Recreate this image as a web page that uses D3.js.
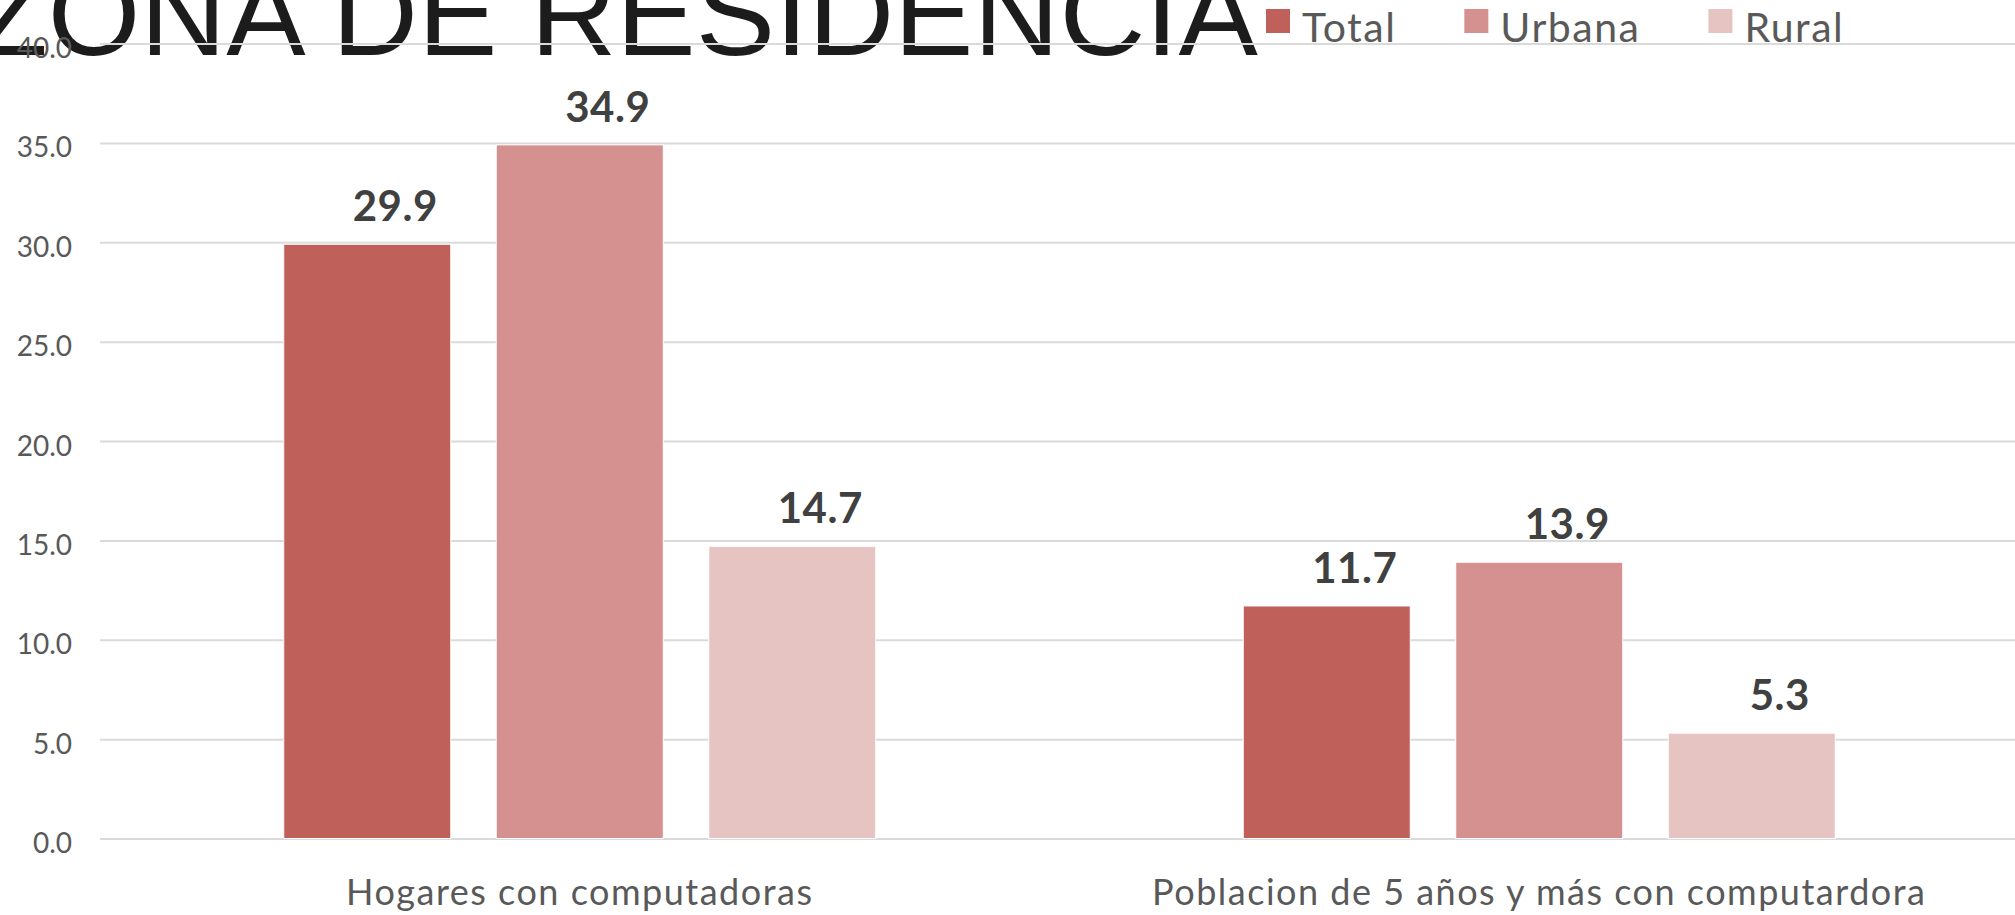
<!DOCTYPE html>
<html>
<head>
<meta charset="utf-8">
<script src="https://cdn.jsdelivr.net/npm/d3@7"></script>
<style>
  html, body { margin: 0; padding: 0; background: #fff; overflow: hidden; }
  svg { display: block; }
</style>
</head>
<body>
<div id="chart"></div>
<script>
// chart data
const categories = ["Hogares con computadoras", "Poblacion de 5 años y más con computardora"];
const series = ["Total", "Urbana", "Rural"];
const totalValues = [29.9, 11.7];
const urbanaValues = [34.9, 13.9];
const ruralValues = [14.7, 5.3];
const yTicks = [0, 5, 10, 15, 20, 25, 30, 35, 40];
const titleText = "ZONA DE RESIDENCIA";

const width = 2015, height = 915;
const margin = {top: 43.5, right: -4, bottom: 76.5, left: 100};

const colors = d3.scaleOrdinal()
  .domain(series)
  .range(["#C0605A", "#D59190", "#E6C4C2"]);

const valuesBySeries = {Total: totalValues, Urbana: urbanaValues, Rural: ruralValues};

const rows = categories.map((c, i) => ({
  category: c,
  bars: series.map(s => ({series: s, value: valuesBySeries[s][i]}))
}));

const svg = d3.select("#chart").append("svg")
  .attr("width", width)
  .attr("height", height);

// title sits underneath the plot (gridlines run over it)
svg.append("text")
  .attr("x", -25)
  .attr("y", 55)
  .style("font-family", "'Liberation Sans', Arial, sans-serif")
  .style("font-size", "119px")
  .style("fill", "#1c1c1c")
  .text(titleText);

const x0 = d3.scaleBand()
  .domain(categories)
  .range([margin.left, width - margin.right])
  .paddingInner(0.383)
  .paddingOuter(0.383 / 2);

const x1 = d3.scaleBand()
  .domain(series)
  .range([0, x0.bandwidth()])
  .paddingInner(0.214);

const y = d3.scaleLinear()
  .domain([0, 40])
  .range([height - margin.bottom, margin.top]);

// y axis + gridlines
const yAxis = svg.append("g")
  .attr("transform", `translate(${margin.left},0)`)
  .call(d3.axisLeft(y)
    .tickValues(yTicks)
    .tickFormat(d3.format(".1f"))
    .tickSizeInner(-(width - margin.left))
    .tickSizeOuter(0)
    .tickPadding(28));

yAxis.select(".domain").remove();
yAxis.selectAll(".tick line")
  .attr("stroke", "#DADADA")
  .attr("stroke-width", 2);
yAxis.selectAll(".tick text")
  .attr("dy", "0.5em")
  .style("font-family", "Lato, sans-serif")
  .style("font-size", "28px")
  .style("fill", "#595959");

// category axis
const xAxis = svg.append("g")
  .attr("transform", `translate(0,${y(0)})`)
  .call(d3.axisBottom(x0).tickSize(0).tickPadding(41));
xAxis.select(".domain").remove();
xAxis.selectAll(".tick text")
  .style("font-family", "Lato, sans-serif")
  .style("font-size", "36px")
  .style("letter-spacing", "1.5px")
  .style("fill", "#595959");

// bars
const groups = svg.selectAll(".group")
  .data(rows)
  .enter().append("g")
  .attr("class", "group")
  .attr("transform", d => `translate(${x0(d.category)},0)`);

groups.selectAll("rect")
  .data(d => d.bars)
  .enter().append("rect")
  .attr("x", d => x1(d.series))
  .attr("y", d => y(d.value))
  .attr("width", x1.bandwidth())
  .attr("height", d => y(0) - y(d.value))
  .style("fill", d => colors(d.series))
  .style("stroke", "#fff")
  .style("stroke-width", 1);

// value labels (nudged right like the original)
groups.selectAll(".value")
  .data(d => d.bars)
  .enter().append("text")
  .attr("class", "value")
  .attr("x", d => x1(d.series) + x1.bandwidth() / 2 + 28)
  .attr("y", d => y(d.value) - 23)
  .attr("text-anchor", "middle")
  .style("font-family", "Lato, sans-serif")
  .style("font-weight", "bold")
  .style("font-size", "42px")
  .style("letter-spacing", "0.5px")
  .style("fill", "#404040")
  .text(d => d.value.toFixed(1));

// legend
const legend = svg.append("g").attr("class", "legend");
let lx = 1266;
series.forEach(s => {
  const item = legend.append("g").attr("transform", `translate(${lx},0)`);
  item.append("rect")
    .attr("x", 0).attr("y", 9)
    .attr("width", 24).attr("height", 24)
    .style("fill", colors(s));
  const t = item.append("text")
    .attr("x", 36).attr("y", 42)
    .style("font-family", "Lato, sans-serif")
    .style("font-size", "41px")
    .style("letter-spacing", "1.5px")
    .style("fill", "#595959")
    .text(s);
  lx += 36 + t.node().getComputedTextLength() + 68;
});
</script>
</body>
</html>
